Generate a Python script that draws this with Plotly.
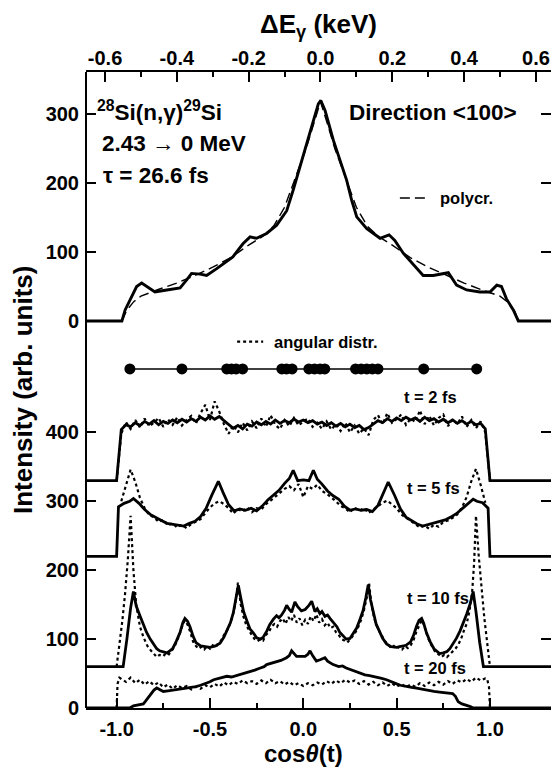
import plotly.graph_objects as go

# ---------------- data ----------------
# top panel (vs Delta E_gamma in keV)
TOP_DE = [-0.66, -0.553, -0.544, -0.530, -0.512, -0.498, -0.484, -0.461, -0.428, -0.391, -0.372, -0.359,
          -0.335, -0.317, -0.289, -0.244, -0.216, -0.196, -0.178, -0.150, -0.122, -0.094, -0.076, -0.057,
          -0.029, -0.006, 0.001, 0.013, 0.036, 0.054, 0.073, 0.087, 0.101, 0.129, 0.166, 0.191, 0.207,
          0.231, 0.258, 0.286, 0.314, 0.342, 0.356, 0.379, 0.407, 0.444, 0.472, 0.491, 0.504, 0.518,
          0.537, 0.551, 0.66]
TOP_I = [0, 0, 16, 30, 50, 55, 50, 42, 45, 48, 60, 69,
         68, 66, 76, 93, 112, 122, 120, 127, 139, 160, 190, 224,
         272, 315, 320, 305, 262, 233, 204, 175, 151, 134, 120, 125, 117,
         98, 83, 66, 66, 69, 70, 52, 45, 42, 42, 52, 50, 32,
         16, 0, 0]
POLY_DE = [-0.553, -0.54, -0.52, -0.50, -0.45, -0.40, -0.35, -0.30, -0.25, -0.20, -0.16, -0.13, -0.10,
           -0.08, -0.06, -0.04, -0.02, 0.0, 0.02, 0.04, 0.06, 0.08, 0.10, 0.13, 0.16, 0.20, 0.25, 0.30,
           0.35, 0.40, 0.45, 0.50, 0.52, 0.54, 0.553]
POLY_I = [0, 15, 28, 36, 46, 55, 66, 78, 92, 110, 123, 138, 165,
          195, 222, 250, 285, 318, 285, 250, 222, 195, 165, 138, 123, 110, 92, 78,
          66, 55, 45, 36, 28, 15, 0]

# angular distribution directions (cos theta) and their plotted level
ANG_COS = [-0.929, -0.65, -0.41, -0.385, -0.36, -0.325, -0.115, -0.09, -0.06,
           0.03, 0.06, 0.09, 0.115, 0.28, 0.31, 0.34, 0.37, 0.40, 0.645, 0.929]
ANG_LEVEL = 492

# common cos-theta grid for the noisy curves
GRID = [round(-1 + 0.025 * i, 3) for i in range(81)]

T2_SOLID = [330, 404, 411, 408, 414, 410, 416, 412, 417, 411, 416, 413, 418, 414, 419, 415, 420, 416,
            422, 418, 424, 419, 423, 417, 412, 406, 410, 405, 412, 409, 415, 411, 416, 412, 418, 413,
            417, 414, 419, 415, 418, 414, 417, 412, 415, 410, 414, 409, 413, 408, 412, 407, 410, 404,
            407, 412, 417, 414, 420, 416, 421, 417, 422, 418, 421, 416, 422, 417, 420, 415, 419, 414,
            418, 413, 417, 412, 416, 411, 413, 405, 330]
T2_DOT = [330, 398, 415, 405, 418, 407, 420, 409, 414, 421, 408, 419, 411, 422, 410, 418, 424, 413,
          428, 440, 418, 445, 430, 412, 398, 410, 400, 414, 403, 416, 406, 420, 408, 425, 411, 405,
          418, 409, 421, 410, 416, 420, 408, 414, 405, 416, 404, 412, 402, 414, 400, 410, 398, 406,
          396, 418, 425, 412, 428, 414, 419, 426, 411, 420, 415, 432, 412, 424, 410, 421, 426, 409,
          419, 412, 423, 408, 418, 406, 416, 400, 330]
T2_BASE = 330

T5_X = [-1.25, -1.0, -0.99, -0.96, -0.93, -0.91, -0.88, -0.85, -0.82, -0.79, -0.76, -0.73, -0.70,
        -0.67, -0.64, -0.61, -0.58, -0.55, -0.52, -0.49, -0.455, -0.43, -0.40, -0.37, -0.34, -0.31,
        -0.28, -0.25, -0.22, -0.19, -0.16, -0.13, -0.10, -0.075, -0.054, -0.03, 0.0, 0.03, 0.054,
        0.075, 0.10, 0.13, 0.16, 0.19, 0.22, 0.25, 0.28, 0.31, 0.34, 0.37, 0.40, 0.43, 0.455, 0.49,
        0.52, 0.55, 0.58, 0.61, 0.64, 0.67, 0.70, 0.73, 0.76, 0.79, 0.82, 0.85, 0.88, 0.91, 0.93,
        0.96, 0.99, 1.0, 1.4]
T5_SOLID = [220, 220, 292, 297, 300, 304, 297, 288, 281, 276, 272, 268, 267,
            265, 264, 268, 271, 278, 290, 309, 329, 313, 295, 286, 289, 287,
            290, 286, 293, 302, 309, 316, 326, 333, 345, 330, 331, 330, 345,
            332, 325, 315, 308, 303, 293, 287, 289, 287, 288, 285, 294, 312, 328, 308,
            289, 277, 272, 267, 264, 266, 268, 270, 273, 277, 282, 289, 296, 303, 300,
            298, 290, 220, 220]
T5_DOT = [300, 325, 346, 328, 305, 290, 280, 277, 270, 273, 265, 268, 262, 266, 261, 267, 270, 274,
          283, 291, 297, 300, 296, 290, 282, 289, 285, 291, 284, 290, 288, 296, 301, 307, 313, 318,
          322, 316, 325, 306, 322, 318, 324, 315, 311, 306, 300, 293, 290, 284, 291, 286, 290, 283,
          288, 292, 298, 301, 295, 290, 281, 276, 271, 266, 262, 265, 260, 266, 263, 270, 272, 276,
          281, 291, 306, 329, 347, 324, 298]

T10_X = [-1.25, -0.965, -0.945, -0.925, -0.91, -0.895, -0.875, -0.855, -0.84, -0.82, -0.80, -0.785,
         -0.77, -0.75, -0.73, -0.715, -0.70, -0.68, -0.66, -0.645, -0.634, -0.62, -0.607, -0.59,
         -0.575, -0.55, -0.52, -0.50, -0.47, -0.446, -0.425, -0.41, -0.39, -0.375, -0.36, -0.348,
         -0.335, -0.32, -0.30, -0.286, -0.265, -0.25, -0.23, -0.214, -0.195, -0.18, -0.16, -0.143,
         -0.13, -0.116, -0.1, -0.089, -0.075, -0.0625, -0.045, -0.03, -0.01, 0.01, 0.03, 0.045,
         0.0625, 0.075, 0.089, 0.1, 0.116, 0.13, 0.143, 0.16, 0.18, 0.195, 0.214, 0.23, 0.25, 0.265,
         0.286, 0.30, 0.32, 0.335, 0.348, 0.36, 0.375, 0.39, 0.41, 0.425, 0.446, 0.47, 0.50, 0.52,
         0.55, 0.575, 0.59, 0.607, 0.62, 0.634, 0.645, 0.66, 0.68, 0.70, 0.715, 0.73, 0.75, 0.77,
         0.785, 0.80, 0.82, 0.84, 0.855, 0.875, 0.895, 0.91, 0.925, 0.945, 0.965, 1.4]
T10_SOLID = [60, 60, 100, 145, 169, 148, 134, 120, 110, 100, 93, 86,
             83, 81, 80, 83, 86, 97, 110, 124, 130, 126, 118, 104,
             95, 90, 89, 88, 90, 94, 103, 112, 124, 138, 158, 178,
             160, 140, 125, 115, 108, 102, 100, 103, 112, 121, 129, 134,
             131, 135, 142, 149, 143, 139, 154, 147, 141, 143, 149, 155,
             140, 144, 137, 140, 133, 135, 130, 125, 118, 110, 104, 100, 101, 107,
             116, 126, 141, 160, 179, 157, 137, 122, 110, 101, 93, 89, 88, 89,
             91, 96, 105, 119, 127, 130, 123, 109, 96, 86, 82, 79, 80, 82,
             86, 92, 101, 112, 122, 136, 152, 169, 140, 95, 60, 60]
T10_DX = [-1.0, -0.985, -0.97, -0.955, -0.94, -0.925, -0.91, -0.895, -0.875, -0.855, -0.835, -0.815,
          -0.80, -0.785, -0.77, -0.75, -0.735, -0.72, -0.70, -0.685, -0.665, -0.65, -0.635, -0.62,
          -0.605, -0.59, -0.575, -0.56, -0.545, -0.53, -0.515, -0.5, -0.485, -0.47, -0.455, -0.44,
          -0.425, -0.41, -0.395, -0.38, -0.365, -0.35, -0.335, -0.32, -0.305, -0.29, -0.275, -0.26,
          -0.245, -0.23, -0.215, -0.2, -0.185, -0.17, -0.155, -0.14, -0.125, -0.11, -0.095, -0.08,
          -0.065, -0.05, -0.035, -0.02, -0.005, 0.01, 0.025, 0.04, 0.055, 0.07, 0.085, 0.1, 0.115,
          0.13, 0.145, 0.16, 0.175, 0.19, 0.205, 0.22, 0.235, 0.25, 0.265, 0.28, 0.295, 0.31, 0.325,
          0.34, 0.352, 0.365, 0.38, 0.395, 0.41, 0.425, 0.44, 0.455, 0.47, 0.485, 0.5, 0.515, 0.53,
          0.545, 0.56, 0.575, 0.59, 0.605, 0.62, 0.635, 0.65, 0.665, 0.68, 0.695, 0.71, 0.725, 0.74,
          0.755, 0.77, 0.785, 0.80, 0.815, 0.83, 0.845, 0.86, 0.875, 0.89, 0.905, 0.915, 0.925,
          0.94, 0.955, 0.97, 0.985, 1.0]
T10_DOT = [60, 90, 125, 165, 215, 279, 200, 150, 118, 102, 90, 83,
           78, 74, 77, 75, 80, 78, 85, 92, 105, 118, 127, 121,
           110, 96, 90, 86, 89, 85, 90, 86, 91, 88, 94, 98,
           106, 112, 120, 132, 150, 182, 150, 132, 120, 112, 105, 100,
           97, 100, 98, 106, 110, 118, 122, 118, 126, 130, 122, 132,
           126, 135, 124, 130, 120, 128, 122, 133, 126, 136, 124, 129, 120,
           124, 116, 118, 110, 106, 100, 98, 95, 99, 104, 110, 118, 128, 142,
           160, 182, 150, 130, 118, 110, 102, 96, 92, 87, 90, 86, 89, 85,
           90, 87, 91, 98, 110, 120, 128, 118, 104, 94, 86, 80, 78, 74,
           77, 74, 78, 82, 86, 92, 100, 112, 122, 140, 170, 210, 279,
           220, 170, 130, 95, 60]

T20_X = [-1.25, -0.93, -0.91, -0.88, -0.857, -0.845, -0.83, -0.815, -0.80, -0.785, -0.77, -0.75,
         -0.725, -0.70, -0.675, -0.65, -0.625, -0.60, -0.575, -0.55, -0.525, -0.50, -0.48, -0.455,
         -0.43, -0.41, -0.385, -0.36, -0.34, -0.32, -0.30, -0.286, -0.26, -0.23, -0.21, -0.196,
         -0.17, -0.143, -0.12, -0.09, -0.075, -0.0625, -0.048, -0.036, -0.01, 0.01, 0.025, 0.036,
         0.05, 0.07, 0.09, 0.116, 0.13, 0.16, 0.19, 0.21, 0.23, 0.26, 0.28, 0.30, 0.33, 0.355, 0.375,
         0.40, 0.42, 0.446, 0.47, 0.50, 0.52, 0.55, 0.58, 0.607, 0.64, 0.67, 0.70, 0.73, 0.77, 0.80,
         0.815, 0.83, 0.85, 0.875, 0.895, 0.91, 1.4]
T20_SOLID = [0, 0, 3, 5, 6, 10, 15, 21, 26, 29, 27, 24,
             25, 26, 27, 27, 29, 30, 31, 33, 35, 38, 41, 43,
             44, 46, 45, 47, 48, 50, 52, 53, 55, 58, 60, 63,
             65, 68, 69, 73, 76, 83, 78, 75, 75, 75, 78, 83,
             76, 68, 70, 73, 68, 63, 60, 61, 58, 55, 53, 51, 48, 47, 46,
             45, 43, 41, 38, 35, 33, 31, 30, 29, 27, 26, 24, 23, 22, 21,
             17, 9, 6, 4, 2, 0, 0]
T20_DX = [-1.0, -0.995, -0.985] + GRID[1:80] + [0.985, 0.995, 1.0]
T20_DOT = [0, 35, 44,
           42, 38, 44, 36, 41, 34, 39, 33, 37, 30, 34, 28, 33, 29, 32, 27, 31, 28, 33, 30, 35, 31,
           37, 33, 38, 35, 40, 36, 39, 35, 40, 36, 41, 36, 39, 34, 38, 33, 36, 32, 36, 33, 37, 34,
           39, 35, 40, 36, 41, 37, 40, 35, 39, 34, 38, 33, 37, 32, 36, 31, 35, 30, 34, 31, 36, 32,
           37, 33, 38, 34, 39, 35, 40, 37, 42, 38, 44, 40, 43,
           42, 30, 0]

BOTTOM_TICKS = [0, 100, 200, 300, 400]
TOP_TICKS = [0, 100, 200, 300]

assert len(TOP_DE) == len(TOP_I) and len(POLY_DE) == len(POLY_I)
assert len(GRID) == len(T2_SOLID) == len(T2_DOT)
assert len(T5_X) == len(T5_SOLID) and len(T5_DOT) == 79
assert len(T10_X) == len(T10_SOLID) and len(T10_DX) == len(T10_DOT)
assert len(T20_X) == len(T20_SOLID) and len(T20_DX) == len(T20_DOT)

# ---------------- figure ----------------
BLACK = "black"
FONT = "Liberation Sans, Arial, Helvetica, sans-serif"
LW = 2.8

fig = go.Figure()

def solid(x, y, xa="x", ya="y", w=LW):
    fig.add_trace(go.Scatter(x=x, y=y, mode="lines", xaxis=xa, yaxis=ya,
                             line=dict(color=BLACK, width=w), showlegend=False, hoverinfo="skip"))

def dotted(x, y, w=2.2):
    fig.add_trace(go.Scatter(x=x, y=y, mode="lines",
                             line=dict(color=BLACK, width=w, dash="dot"), showlegend=False,
                             hoverinfo="skip"))

# top panel
fig.add_trace(go.Scatter(x=POLY_DE, y=POLY_I, mode="lines", xaxis="x2", yaxis="y2",
                         line=dict(color=BLACK, width=1.4, dash="10px,5px"), showlegend=False))
solid(TOP_DE, TOP_I, "x2", "y2", 2.9)

# angular distribution row
fig.add_trace(go.Scatter(x=ANG_COS, y=[ANG_LEVEL] * len(ANG_COS), mode="lines+markers",
                         line=dict(color=BLACK, width=1.5), marker=dict(color=BLACK, size=11),
                         showlegend=False))

# t = 2 fs
dotted(GRID, T2_DOT)
solid([-1.25] + GRID + [1.4], [T2_BASE] + T2_SOLID + [T2_BASE])
# t = 5 fs
dotted(GRID[1:80], T5_DOT)
solid(T5_X, T5_SOLID)
# t = 10 fs
dotted(T10_DX, T10_DOT)
solid(T10_X, T10_SOLID)
# t = 20 fs
dotted(T20_DX, T20_DOT)
solid(T20_X, T20_SOLID)

# invisible traces so the right-hand tick axes are active
fig.add_trace(go.Scatter(x=[0], y=[0], xaxis="x", yaxis="y3", mode="markers",
                         marker=dict(opacity=0), showlegend=False, hoverinfo="skip"))
fig.add_trace(go.Scatter(x=[0], y=[0], xaxis="x", yaxis="y4", mode="markers",
                         marker=dict(opacity=0), showlegend=False, hoverinfo="skip"))

tickfont = dict(family=FONT, size=20, color=BLACK, weight="bold")
ytick = dict(ticks="inside", ticklen=10, tickwidth=1.6, tickcolor=BLACK, showline=False,
             showgrid=False, zeroline=False)
BOT_RANGE = [0, 923.0]
TOP_RANGE = [-561.7, 361.3]

fig.update_layout(
    width=551, height=772,
    margin=dict(l=86, r=0, t=72, b=64),
    paper_bgcolor="white", plot_bgcolor="white",
    showlegend=False,
    xaxis=dict(range=[-1.164, 1.327], tickvals=[-1, -0.5, 0, 0.5, 1],
               ticktext=["-1.0", "-0.5", "0.0", "0.5", "1.0"], ticks="inside", ticklen=10,
               tickwidth=1.6, tickcolor=BLACK, showline=True, linewidth=2, linecolor=BLACK,
               showgrid=False, zeroline=False, tickfont=tickfont, ticklabelstandoff=2,
               minor=dict(tickvals=[-0.75, -0.25, 0.25, 0.75], ticks="inside", ticklen=5,
                          tickwidth=1.6, tickcolor=BLACK, showgrid=False)),
    xaxis2=dict(overlaying="x", side="top", anchor="y", range=[-0.653, 0.642],
                tickvals=[-0.6, -0.4, -0.2, 0.0, 0.2, 0.4, 0.6],
                ticktext=["-0.6", "-0.4", "-0.2", "0.0", "0.2", "0.4", "0.6"],
                ticks="inside", ticklen=10, tickwidth=1.6, tickcolor=BLACK,
                showline=True, linewidth=2, linecolor=BLACK, showgrid=False, zeroline=False,
                tickfont=tickfont, ticklabelstandoff=-3,
                minor=dict(tickvals=[-0.5, -0.3, -0.1, 0.1, 0.3, 0.5], ticks="inside", ticklen=5,
                           tickwidth=1.6, tickcolor=BLACK, showgrid=False)),
    yaxis=dict(range=BOT_RANGE, tickvals=BOTTOM_TICKS, ticktext=[str(v) for v in BOTTOM_TICKS],
               tickfont=tickfont, ticklabelstandoff=6, **ytick),
    yaxis2=dict(overlaying="y", anchor="x", side="left", range=TOP_RANGE,
                tickvals=TOP_TICKS, ticktext=[str(v) for v in TOP_TICKS],
                tickfont=tickfont, ticklabelstandoff=6, **ytick),
    yaxis3=dict(overlaying="y", anchor="x", side="right", range=BOT_RANGE,
                tickvals=BOTTOM_TICKS, showticklabels=False, **ytick),
    yaxis4=dict(overlaying="y", anchor="x", side="right", range=TOP_RANGE,
                tickvals=TOP_TICKS, showticklabels=False, **ytick),
)

# left frame line
fig.add_shape(type="line", xref="paper", yref="paper", x0=0, x1=0, y0=0, y1=1,
              line=dict(color=BLACK, width=2))
# legend samples
fig.add_shape(type="line", xref="paper", yref="paper", x0=0.675, x1=0.7355, y0=0.802, y1=0.802,
              line=dict(color=BLACK, width=1.4, dash="10px,5px"))
fig.add_shape(type="line", xref="paper", yref="paper", x0=0.325, x1=0.381, y0=0.576, y1=0.576,
              line=dict(color=BLACK, width=2.2, dash="dot"))

def note(text, x, y, size, xanchor="left", angle=0):
    fig.add_annotation(text=text, x=x, y=y, xref="paper", yref="paper", showarrow=False,
                       xanchor=xanchor, yanchor="middle", textangle=angle,
                       font=dict(family=FONT, size=size, color=BLACK, weight="bold"))

note("<sup>28</sup>Si(n,γ)<sup>29</sup>Si", 0.020, 0.938, 22.5)
note("2.43 → 0 MeV", 0.030, 0.887, 22.5)
note("τ = 26.6 fs", 0.032, 0.838, 22.5)
note("Direction &lt;100&gt;", 0.562, 0.936, 22.5)
note("polycr.", 0.757, 0.802, 16.5)
note("angular distr.", 0.400, 0.576, 16.5)
note("t = 2 fs", 0.679, 0.489, 16.5)
note("t = 5 fs", 0.686, 0.346, 16.5)
note("t = 10 fs", 0.686, 0.173, 16.5)
note("t = 20 fs", 0.679, 0.063, 16.5)
note("ΔE<sub>γ</sub> (keV)", 0.499, 1.073, 26, xanchor="center")
note("cos<i>θ</i>(t)", 0.467, -0.071, 24, xanchor="center")
note("Intensity (arb. units)", -0.1355, 0.5, 26, xanchor="center", angle=-90)

fig.write_html("out.html")
